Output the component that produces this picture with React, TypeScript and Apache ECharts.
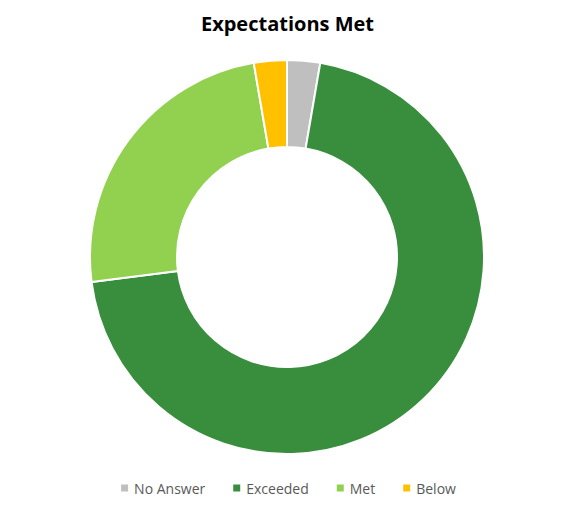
import React, { useEffect, useRef } from "react";
import * as echarts from "echarts";

const categories = ["No Answer", "Exceeded", "Met", "Below"];
const values = [1, 26, 9, 1];
const colors = ["#BFBFBF", "#388E3C", "#92D050", "#FFC000"];

export default function App() {
  const ref = useRef<HTMLDivElement>(null);
  useEffect(() => {
    if (!ref.current) return;
    const chart = echarts.init(ref.current, undefined, { renderer: "svg" });
    chart.setOption({
      animation: false,
      backgroundColor: "#ffffff",
      title: {
        text: "Expectations Met",
        left: "center",
        top: 8,
        textStyle: { fontFamily: "Open Sans", fontWeight: "bold", fontSize: 20, color: "#000000" },
      },
      legend: {
        bottom: 14,
        left: "center",
        icon: "rect",
        itemWidth: 9,
        itemHeight: 9,
        itemGap: 26,
        textStyle: { fontFamily: "Open Sans", fontSize: 14, color: "#595959" },
        data: categories,
      },
      series: [
        {
          type: "pie",
          center: [287, 257],
          radius: [110, 197],
          startAngle: 90,
          clockwise: true,
          label: { show: false },
          labelLine: { show: false },
          itemStyle: { borderColor: "#ffffff", borderWidth: 2 },
          emphasis: { disabled: true },
          data: categories.map((c, i) => ({ name: c, value: values[i], itemStyle: { color: colors[i] } })),
        },
      ],
    });
    return () => chart.dispose();
  }, []);
  return <div ref={ref} style={{ position: "fixed", left: 0, top: 0, width: 575, height: 514 }} />;
}
